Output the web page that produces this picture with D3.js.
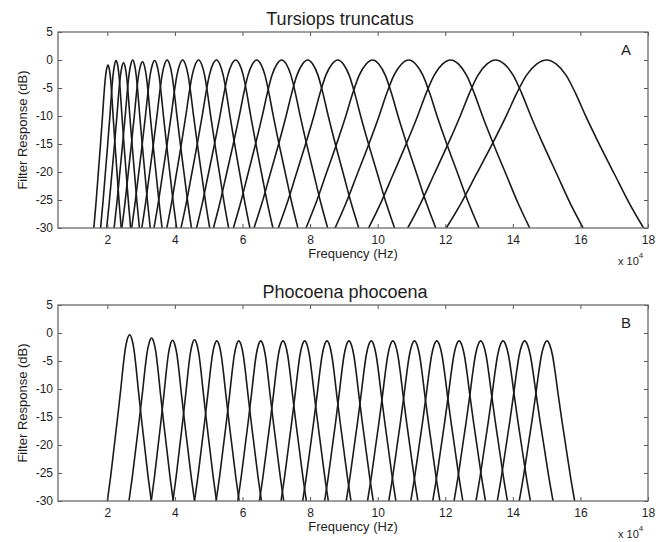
<!DOCTYPE html>
<html>
<head>
<meta charset="utf-8">
<script src="https://cdn.jsdelivr.net/npm/d3@7"></script>
<style>
  body { margin: 0; background: #fff; }
  text { font-family: "Liberation Sans", Arial, Helvetica, sans-serif; fill: #1e1e1e; }
</style>
</head>
<body>
<div id="chart"></div>
<script>
// Panel A - Tursiops truncatus (frequencies in kHz, levels in dB)
var tursCenter = [20.2, 22.6, 24.8, 27.5, 30.4, 34.0, 37.7, 42.3, 47.0, 52.3, 58.0, 64.2, 71.6, 79.3, 88.2, 98.5, 109.2, 121.6, 134.9, 150.0];
var tursLow    = [16.0, 18.0, 19.8, 22.0, 24.3, 27.2, 30.2, 33.8, 37.6, 41.8, 46.4, 51.4, 57.3, 63.4, 70.6, 78.8, 87.4, 97.3, 108.9, 120.3];
var tursHigh   = [24.1, 26.9, 29.5, 32.7, 36.2, 40.5, 44.9, 50.3, 55.9, 62.2, 69.0, 76.4, 85.2, 94.4, 105.0, 117.2, 130.0, 145.0, 160.8, 178.7];
var tursPeak   = [-0.9, -0.1, -0.5, 0, -0.3, -0.1, 0, 0, 0, 0, 0, 0, 0, 0, 0, 0, 0, 0, 0, 0];

// Panel B - Phocoena phocoena
var phocCenter = [26.6, 33.1, 39.3, 45.8, 52.4, 58.9, 65.4, 72.0, 78.4, 85.0, 91.5, 98.1, 104.5, 110.9, 117.5, 124.1, 130.5, 137.1, 143.5, 150.1];
var phocLow    = [20.0, 26.4, 33.0, 39.4, 45.8, 52.2, 58.6, 65.0, 71.4, 77.8, 84.3, 90.7, 97.0, 103.3, 109.8, 116.3, 122.6, 129.1, 135.4, 141.9];
var phocHigh   = [33.0, 39.5, 45.8, 52.3, 59.0, 65.6, 72.2, 78.9, 85.4, 92.1, 98.7, 105.4, 111.9, 118.4, 125.2, 131.9, 138.4, 145.2, 151.9, 158.3];
var phocPeak   = [-0.3, -0.9, -1.3, -1.2, -1.4, -1.4, -1.4, -1.4, -1.4, -1.4, -1.4, -1.4, -1.4, -1.4, -1.4, -1.4, -1.4, -1.4, -1.4, -1.4];

// filter profile: distance from centre (share of half width)
// against share of the drop down to -30 dB
var profileU    = [0, 0.1, 0.2, 0.3, 0.4, 0.55, 0.7, 0.85, 1];
var profileDrop = [0, 0.025, 0.09, 0.2, 0.33, 0.51, 0.68, 0.85, 1];

var yTicks = [5, 0, -5, -10, -15, -20, -25, -30];
var xTicks = [2, 4, 6, 8, 10, 12, 14, 16, 18];   // x 10^4 Hz

var svgWidth = 663, svgHeight = 542;
var margin = { left: 58, right: 15 };
var width = svgWidth - margin.left - margin.right;
var panelHeight = 196;

var svg = d3.select("#chart")
  .append("svg")
  .attr("width", svgWidth)
  .attr("height", svgHeight);

// x scale works in kHz, tick labels are in units of 10^4 Hz
var xScale = d3.scaleLinear()
  .domain([5.4, 180])
  .range([0, width]);
var xTickVals = xTicks.map(t => t * 10);

var yScale = d3.scaleLinear()
  .domain([-30, 5])
  .range([panelHeight, 0]);

function filterPoints(c, lo, hi, pk) {
  var pts = [];
  for (var k = profileU.length - 1; k >= 1; k--) {
    pts.push([c - profileU[k] * (c - lo), pk - (30 + pk) * profileDrop[k]]);
  }
  pts.push([c, pk]);
  for (var k = 1; k < profileU.length; k++) {
    pts.push([c + profileU[k] * (hi - c), pk - (30 + pk) * profileDrop[k]]);
  }
  return pts;
}

function drawPanel(id, top, title, titleX, letter, centers, lows, highs, peaks) {
  var g = svg.append("g")
    .attr("transform", `translate(${margin.left}, ${top})`);

  g.append("clipPath").attr("id", "clip" + id)
    .append("rect").attr("width", width).attr("height", panelHeight);

  var line = d3.line()
    .x(d => xScale(d[0]))
    .y(d => yScale(d[1]))
    .curve(d3.curveMonotoneX);

  var filters = centers.map((c, i) => filterPoints(c, lows[i], highs[i], peaks[i]));

  g.append("g")
    .attr("clip-path", `url(#clip${id})`)
    .selectAll("path")
    .data(filters)
    .enter()
    .append("path")
    .attr("d", line)
    .attr("fill", "none")
    .attr("stroke", "#1a1a1a")
    .attr("stroke-width", 1.6);

  // axes, ticks pointing inward like matlab
  var bottom = g.append("g")
    .attr("transform", `translate(0, ${panelHeight})`)
    .call(d3.axisBottom(xScale).tickValues(xTickVals).tickSize(-4).tickSizeOuter(0).tickPadding(7).tickFormat(d => String(d / 10)));
  var topAx = g.append("g")
    .call(d3.axisTop(xScale).tickValues(xTickVals).tickSize(-4).tickSizeOuter(0).tickFormat(""));
  var left = g.append("g")
    .call(d3.axisLeft(yScale).tickValues(yTicks).tickSize(-4).tickSizeOuter(0).tickPadding(5).tickFormat(d => String(d)));
  var right = g.append("g")
    .attr("transform", `translate(${width}, 0)`)
    .call(d3.axisRight(yScale).tickValues(yTicks).tickSize(-4).tickSizeOuter(0).tickFormat(""));

  [bottom, topAx, left, right].forEach(a => {
    a.select(".domain").remove();
    a.selectAll(".tick line").attr("stroke", "#555");
    a.selectAll(".tick text").attr("font-size", 12).attr("fill", "#1e1e1e")
      .attr("font-family", "'Liberation Sans', Arial, sans-serif");
  });

  g.append("rect")
    .attr("width", width)
    .attr("height", panelHeight)
    .attr("fill", "none")
    .attr("stroke", "#6a6a6a")
    .attr("stroke-width", 1.3);

  g.append("text")
    .attr("x", titleX - margin.left)
    .attr("y", -7)
    .attr("text-anchor", "middle")
    .attr("font-size", 18)
    .text(title);

  g.append("text")
    .attr("x", width - 22)
    .attr("y", 23)
    .attr("text-anchor", "middle")
    .attr("font-size", 15)
    .text(letter);

  g.append("text")
    .attr("x", width / 2)
    .attr("y", panelHeight + 30)
    .attr("text-anchor", "middle")
    .attr("font-size", 13)
    .text("Frequency (Hz)");

  var mult = g.append("text")
    .attr("x", width - 30)
    .attr("y", panelHeight + 37)
    .attr("font-size", 11);
  mult.append("tspan").text("x 10");
  mult.append("tspan").attr("dy", -7).attr("font-size", 8).text("4");

  g.append("text")
    .attr("transform", `translate(${27 - margin.left}, ${panelHeight / 2}) rotate(-90)`)
    .attr("text-anchor", "middle")
    .attr("font-size", 13)
    .text("Filter Response (dB)");
}

drawPanel("A", 32, "Tursiops truncatus", 340, "A", tursCenter, tursLow, tursHigh, tursPeak);
drawPanel("B", 305, "Phocoena phocoena", 345, "B", phocCenter, phocLow, phocHigh, phocPeak);
</script>
</body>
</html>
